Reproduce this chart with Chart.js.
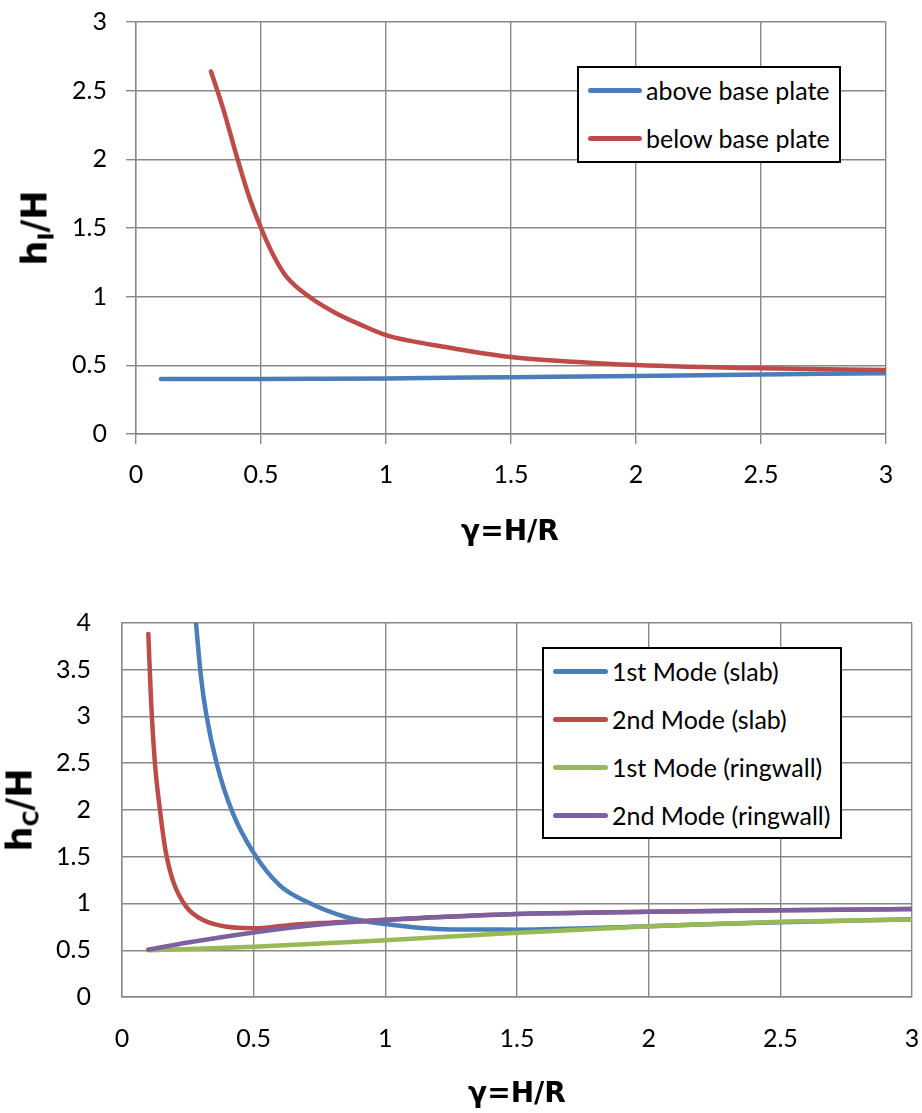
<!DOCTYPE html>
<html>
<head>
<meta charset="utf-8">
<script src="https://cdn.jsdelivr.net/npm/chart.js"></script>
<style>
  html, body { margin: 0; padding: 0; background: #fff; }
  #wrap { position: relative; width: 922px; height: 1113px; overflow: hidden; background: #fff; }
  canvas { position: absolute; left: 0; }
  .xtitle { position: absolute; font-family: "DejaVu Sans", sans-serif; font-weight: bold; font-size: 28px; line-height: 1; white-space: nowrap; transform: translateX(-50%); color: #000; }
  .ytitle { position: absolute; font-family: "DejaVu Sans", sans-serif; font-weight: bold; font-size: 35px; line-height: 1; white-space: nowrap; transform: translate(-50%, -50%) rotate(-90deg); color: #000; }
  .ytitle sub { font-size: 62%; vertical-align: -0.3em; line-height: 0; }
  .legend { position: absolute; box-sizing: border-box; border: 2px solid #000; background: #fff; }
  .litem { position: absolute; left: 0; height: 0; }
  .lline { position: absolute; height: 5px; border-radius: 3px; margin-top: -2.5px; }
  .ltext { position: absolute; font-family: Lato, "Open Sans", sans-serif; font-size: 25px; line-height: 30px; margin-top: -15px; white-space: nowrap; color: #000; }
</style>
</head>
<body>
<div id="wrap">
  <canvas id="c1" width="922" height="560" style="top:0px"></canvas>
  <canvas id="c2" width="922" height="543" style="top:570px"></canvas>
  <div class="xtitle" id="xt1" style="left:510px; top:517px;">γ=H/R</div>
  <div class="xtitle" id="xt2" style="left:517px; top:1079px;">γ=H/R</div>
  <div class="ytitle" id="yt1" style="left:35px; top:228px;">h<sub>I</sub>/H</div>
  <div class="ytitle" id="yt2" style="left:20px; top:810px;">h<sub>C</sub>/H</div>
  <div class="legend" id="lg1" style="left:577px; top:66px; width:264px; height:97px;"></div>
  <div class="legend" id="lg2" style="left:542px; top:647px; width:300px; height:192px;"></div>
</div>
<script>
// ---------- Data ----------
// Top chart: h_I/H vs gamma
const topLabels = ['above base plate', 'below base plate'];
const topColors = ['#4A7EBB', '#BE4B48'];
const topX_above = [0.1, 0.25, 0.5, 0.75, 1.0, 1.5, 2.0, 2.5, 3.0];
const topY_above = [0.400, 0.400, 0.400, 0.402, 0.405, 0.414, 0.423, 0.433, 0.443];
const topX_below = [0.3, 0.35, 0.4, 0.45, 0.5, 0.55, 0.6, 0.7, 0.8, 0.9, 1.0, 1.25, 1.5, 1.75, 2.0, 2.5, 3.0];
const topY_below = [2.64, 2.36, 2.04, 1.74, 1.50, 1.30, 1.15, 0.99, 0.88, 0.795, 0.72, 0.63, 0.56, 0.526, 0.502, 0.478, 0.466];
const topXTicks = ['0', '0.5', '1', '1.5', '2', '2.5', '3'];
const topYTicks = ['0', '0.5', '1', '1.5', '2', '2.5', '3'];

// Bottom chart: h_C/H vs gamma
const botLabels = ['1st Mode (slab)', '2nd Mode (slab)', '1st Mode (ringwall)', '2nd Mode (ringwall)'];
const botColors = ['#4A7EBB', '#BE4B48', '#98B954', '#7D60A0'];
const botX_slab1 = [0.26, 0.28, 0.30, 0.32, 0.36, 0.42, 0.5, 0.6, 0.7, 0.85, 1.0, 1.25, 1.5, 2.0, 2.5, 3.0];
const botY_slab1 = [4.70, 4.03, 3.42, 3.02, 2.49, 1.97, 1.54, 1.19, 1.02, 0.855, 0.78, 0.722, 0.72, 0.757, 0.80, 0.83];
const botX_slab2 = [0.1, 0.11, 0.125, 0.145, 0.165, 0.195, 0.245, 0.31, 0.4, 0.5, 0.625, 0.75, 1.0, 1.5, 2.0, 2.5, 3.0];
const botY_slab2 = [3.88, 3.19, 2.50, 1.98, 1.57, 1.23, 0.96, 0.82, 0.75, 0.735, 0.765, 0.79, 0.825, 0.886, 0.91, 0.928, 0.94];
const botX_ring1 = [0.1, 0.5, 1.0, 1.5, 2.0, 2.5, 3.0];
const botY_ring1 = [0.50, 0.536, 0.607, 0.686, 0.757, 0.804, 0.829];
const botX_ring2 = [0.1, 0.25, 0.5, 0.75, 1.0, 1.25, 1.5, 2.0, 2.5, 3.0];
const botY_ring2 = [0.507, 0.582, 0.69, 0.775, 0.825, 0.86, 0.886, 0.91, 0.928, 0.94];
const botXTicks = ['0', '0.5', '1', '1.5', '2', '2.5', '3'];
const botYTicks = ['0', '0.5', '1', '1.5', '2', '2.5', '3', '3.5', '4'];

// ---------- Helpers ----------
const zip = (xs, ys) => xs.map((x, i) => ({ x: x, y: ys[i] }));
const GRID = '#888888';
Chart.defaults.font.family = 'Lato, "Open Sans", sans-serif';
Chart.defaults.color = '#000';

function makeDatasets(labels, colors, series) {
  const n = series.length;
  return series.map((pts, i) => ({
    label: labels[i],
    data: pts,
    borderColor: colors[i],
    backgroundColor: colors[i],
    borderWidth: 4.5,
    borderCapStyle: 'round',
    borderJoinStyle: 'round',
    pointRadius: 0,
    pointHoverRadius: 0,
    fill: false,
    cubicInterpolationMode: 'monotone',
    order: n - 1 - i   // later series drawn on top, like the original
  }));
}

function makeChart(id, datasets, cfg) {
  return new Chart(document.getElementById(id), {
    type: 'line',
    data: { datasets: datasets },
    options: {
      responsive: false,
      animation: false,
      devicePixelRatio: 1,
      layout: { padding: cfg.padding },
      plugins: { legend: { display: false }, tooltip: { enabled: false } },
      scales: {
        x: {
          type: 'linear', min: 0, max: 3,
          grid: { color: GRID, lineWidth: 1.4, drawTicks: cfg.drawTicks, tickLength: cfg.tickLength },
          border: { display: true, color: GRID, width: 1.4 },
          ticks: {
            stepSize: 0.5, padding: cfg.xPad, maxRotation: 0, autoSkip: false,
            font: { size: 25 }, color: '#000',
            callback: (v, i) => cfg.xTicks[i]
          },
          afterFit: (s) => { s.height = cfg.xHeight; s.paddingLeft = 0; s.paddingRight = 0; }
        },
        y: {
          type: 'linear', min: 0, max: cfg.yMax,
          grid: { color: GRID, lineWidth: 1.4, drawTicks: cfg.drawTicks, tickLength: cfg.tickLength },
          border: { display: true, color: GRID, width: 1.4 },
          ticks: {
            stepSize: 0.5, padding: cfg.yPad, autoSkip: false,
            font: { size: 25 }, color: '#000',
            callback: (v, i) => cfg.yTicks[i]
          },
          afterFit: (s) => { s.width = cfg.yWidth; s.paddingTop = 0; s.paddingBottom = 0; }
        }
      }
    }
  });
}

function buildLegend(id, labels, colors, rowYs, lineX, lineW, textX) {
  const box = document.getElementById(id);
  labels.forEach((lab, i) => {
    const it = document.createElement('div');
    it.className = 'litem';
    it.style.top = rowYs[i] + 'px';
    const ln = document.createElement('div');
    ln.className = 'lline';
    ln.style.left = lineX + 'px';
    ln.style.width = lineW + 'px';
    ln.style.background = colors[i];
    const tx = document.createElement('div');
    tx.className = 'ltext';
    tx.style.left = textX + 'px';
    tx.textContent = lab;
    it.appendChild(ln); it.appendChild(tx);
    box.appendChild(it);
  });
}

// ---------- Top chart ----------
makeChart('c1',
  makeDatasets(topLabels, topColors, [zip(topX_above, topY_above), zip(topX_below, topY_below)]),
  { padding: { top: 22, right: 36, bottom: 0, left: 0 }, drawTicks: true, tickLength: 10,
    xPad: 16, yPad: 19, xHeight: 126, yWidth: 136, yMax: 3, xTicks: topXTicks, yTicks: topYTicks });

// ---------- Bottom chart ----------
makeChart('c2',
  makeDatasets(botLabels, botColors, [zip(botX_slab1, botY_slab1), zip(botX_slab2, botY_slab2),
                                      zip(botX_ring1, botY_ring1), zip(botX_ring2, botY_ring2)]),
  { padding: { top: 52.7, right: 10, bottom: 0, left: 0 }, drawTicks: false, tickLength: 0,
    xPad: 27, yPad: 31, xHeight: 116, yWidth: 122, yMax: 4, xTicks: botXTicks, yTicks: botYTicks });

buildLegend('lg1', topLabels, topColors, [22, 70], 9, 54, 67);
buildLegend('lg2', botLabels, botColors, [22, 70, 118, 166], 9, 55, 68);
</script>
</body>
</html>
